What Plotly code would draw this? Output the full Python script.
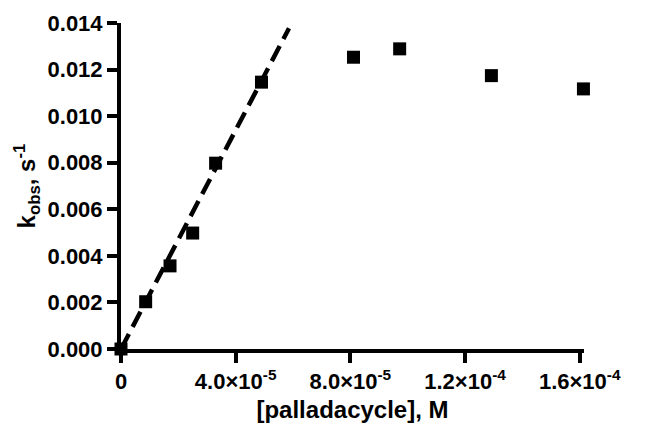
import plotly.graph_objects as go

# Observed rate constants vs. palladacycle concentration
conc_M = [0.0, 8.6e-6, 1.71e-5, 2.50e-5, 3.30e-5, 4.90e-5, 8.11e-5, 9.72e-5, 1.292e-4, 1.613e-4]
k_obs = [0.0, 0.00203, 0.00357, 0.00498, 0.00798, 0.01146, 0.01253, 0.01289, 0.01174, 0.01117]

# Linear fit through the low-concentration region
fit_x = [0.0, 5.86e-5]
fit_slope = 235.0  # M^-1 s^-1
fit_y = [fit_slope * x for x in fit_x]

x_tickvals = [0, 4.0e-5, 8.0e-5, 1.2e-4, 1.6e-4]
x_ticktext = ["0", "4.0×10<sup>-5</sup>", "8.0×10<sup>-5</sup>",
              "1.2×10<sup>-4</sup>", "1.6×10<sup>-4</sup>"]
y_tickvals = [0.000, 0.002, 0.004, 0.006, 0.008, 0.010, 0.012, 0.014]
y_ticktext = [f"{v:.3f}" for v in y_tickvals]

FONT = "Liberation Sans, Arial, sans-serif"
X_MAX = 1.615e-4  # a hair past the last tick so the final point is kept

fig = go.Figure()
fig.add_trace(go.Scatter(
    x=fit_x, y=fit_y, mode="lines",
    line=dict(color="black", width=4.5, dash="17px,8px"),
    showlegend=False, cliponaxis=False,
))
fig.add_trace(go.Scatter(
    x=conc_M, y=k_obs, mode="markers",
    marker=dict(symbol="square", size=13, color="black", line=dict(width=0)),
    showlegend=False, cliponaxis=False,
))

fig.update_layout(
    width=660, height=429,
    margin=dict(l=121, r=76, t=23, b=80, autoexpand=False),
    plot_bgcolor="white", paper_bgcolor="white",
    font=dict(family=FONT, color="black"),
    xaxis=dict(
        range=[0, X_MAX], tickvals=x_tickvals,
        ticktext=[f"<b>{t}</b>" for t in x_ticktext],
        showgrid=False, zeroline=False, showline=True, linecolor="black", linewidth=4,
        ticks="outside", ticklen=10, tickwidth=4, tickcolor="black",
        tickfont=dict(family=FONT, size=22),
        title=dict(text="<b>[palladacycle], M</b>", font=dict(family=FONT, size=24), standoff=9),
    ),
    yaxis=dict(
        range=[0, 0.014], tickvals=y_tickvals,
        ticktext=[f"<b>{t}</b>" for t in y_ticktext],
        showgrid=False, zeroline=False, showline=True, linecolor="black", linewidth=4,
        ticks="outside", ticklen=10, tickwidth=4, tickcolor="black",
        tickfont=dict(family=FONT, size=22),
        title=dict(text="<b>k<sub>obs</sub>, s<sup>-1</sup></b>", font=dict(family=FONT, size=24), standoff=6),
    ),
)

fig.write_html("out.html")
